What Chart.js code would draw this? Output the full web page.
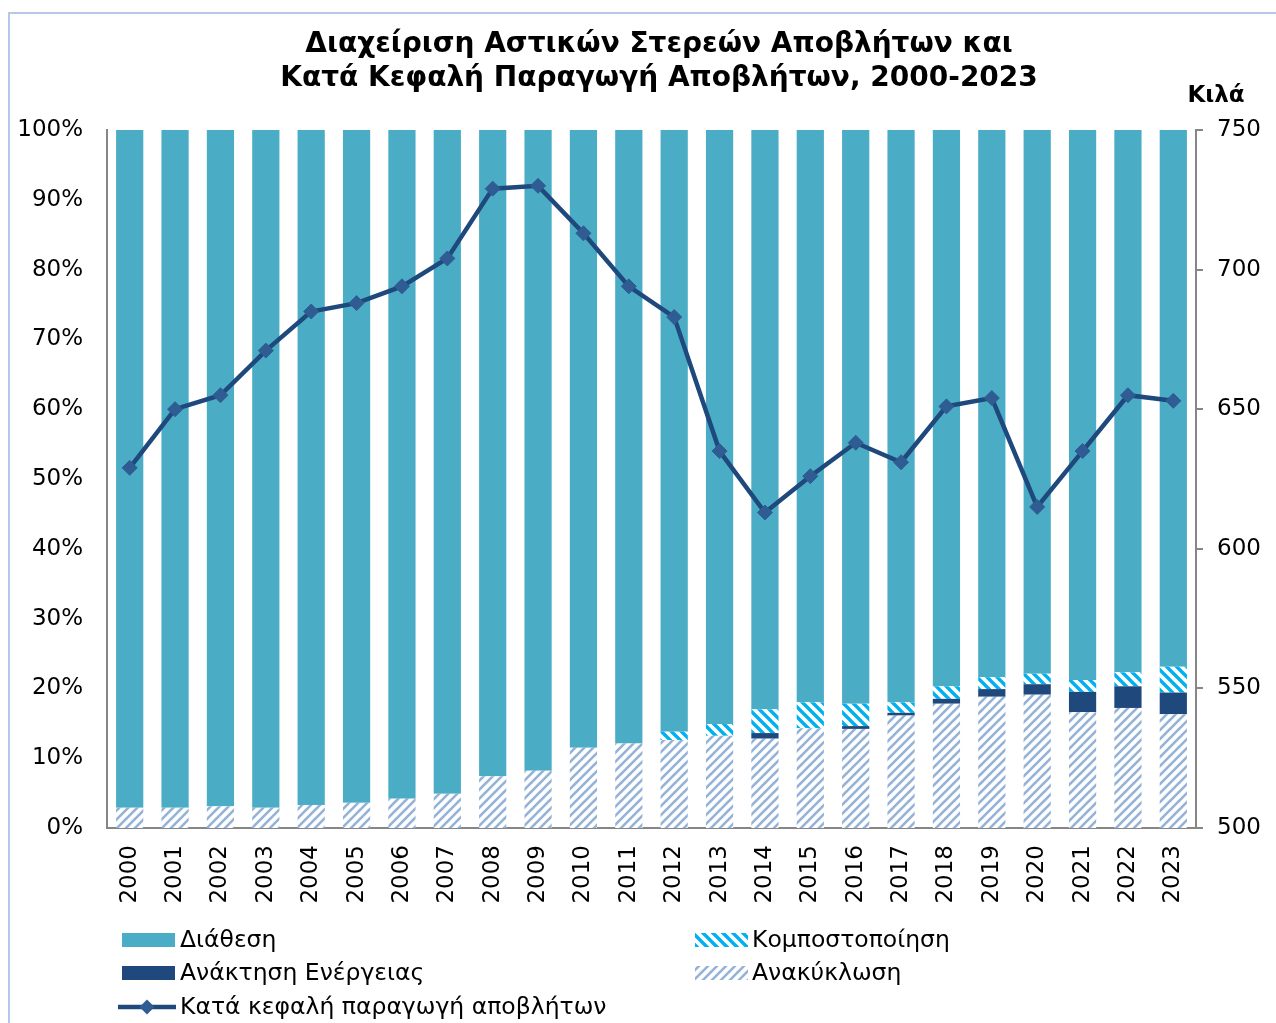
<!DOCTYPE html>
<html>
<head>
<meta charset="utf-8">
<script src="https://cdn.jsdelivr.net/npm/chart.js@4.4.1/dist/chart.umd.min.js"></script>
<style>
html,body{margin:0;padding:0;background:#fff;}
#wrap{position:relative;width:1276px;height:1023px;}
canvas{display:block;}
</style>
</head>
<body>
<div id="wrap"><canvas id="c" width="1276" height="1023"></canvas></div>
<script>
const years = ['2000','2001','2002','2003','2004','2005','2006','2007','2008','2009','2010','2011','2012','2013','2014','2015','2016','2017','2018','2019','2020','2021','2022','2023'];
const recycling = [2.9,2.9,3.1,2.9,3.3,3.6,4.2,4.9,7.4,8.2,11.5,12.1,12.6,13.2,12.8,14.3,14.2,16.1,17.8,18.8,19.1,16.6,17.2,16.3];
const energyRecovery = [0,0,0,0,0,0,0,0,0,0,0,0,0,0,0.8,0,0.4,0.4,0.7,1.1,1.5,2.9,3.1,3.1];
const composting = [0,0,0,0,0,0,0,0,0,0,0,0,1.2,1.7,3.4,3.7,3.2,1.5,1.8,1.7,1.5,1.7,2.0,3.7];
const disposal = [97.1,97.1,96.9,97.1,96.7,96.4,95.8,95.1,92.6,91.8,88.5,87.9,86.2,85.1,83.0,82.0,82.2,82.0,79.7,78.4,77.9,78.8,77.7,76.9];
const perCapita = [629,650,655,671,685,688,694,704,729,730,713,694,683,635,613,626,638,631,651,654,615,635,655,653];
const pctTicks = [0,10,20,30,40,50,60,70,80,90,100];
const kgTicks = [500,550,600,650,700,750];

const titleLines = ['Διαχείριση Αστικών Στερεών Αποβλήτων και','Κατά Κεφαλή Παραγωγή Αποβλήτων, 2000-2023'];
const unitLabel = 'Κιλά';
const labels = {
  disposal:'Διάθεση', energy:'Ανάκτηση Ενέργειας', compost:'Κομποστοποίηση',
  recycling:'Ανακύκλωση', line:'Κατά κεφαλή παραγωγή αποβλήτων'
};

const FONT = "'DejaVu Sans', Verdana, sans-serif";
const C_DISP = '#4bacc6', C_ENERGY = '#1f497d', C_COMP = '#00b0f0', C_REC = '#95b3d7';
const C_LINE = '#1f497d', C_MARK = '#2f5d93';

function stripe(color, dir, size, w){
  const cv = document.createElement('canvas');
  cv.width = size; cv.height = size;
  const g = cv.getContext('2d');
  g.fillStyle = '#fff'; g.fillRect(0,0,size,size);
  g.strokeStyle = color; g.lineWidth = w; g.lineCap = 'square';
  g.beginPath();
  for (let k=-1;k<=1;k++){
    if (dir === 'up'){ g.moveTo(k*size, size); g.lineTo(k*size+size, 0); }
    else { g.moveTo(k*size, 0); g.lineTo(k*size+size, size); }
  }
  g.stroke();
  return g.createPattern(cv,'repeat');
}
const patRec = stripe(C_REC,'up',9,2.6);
const patComp = stripe(C_COMP,'down',10,3.4);

const titlePlugin = {
  id:'titleLegend',
  beforeDraw(chart){
    const c = chart.ctx;
    c.save();
    c.strokeStyle = '#b4c9e8'; c.lineWidth = 2;
    c.beginPath(); c.moveTo(9, 1023); c.lineTo(9, 13); c.lineTo(1276, 13); c.stroke();
    c.restore();
  },
  afterDraw(chart){
    const c = chart.ctx;
    c.save();
    c.fillStyle = '#000';
    c.textAlign = 'center'; c.textBaseline = 'middle';
    c.font = 'bold 28px ' + FONT;
    c.fillText(titleLines[0], 659, 45);
    c.fillText(titleLines[1], 659, 79);
    c.font = 'bold 23px ' + FONT;
    c.fillText(unitLabel, 1216, 96);
    // legend
    c.font = '23.5px ' + FONT;
    c.textAlign = 'left';
    const items = [
      {x:122, y:940, t:labels.disposal, fill:C_DISP},
      {x:695, y:940, t:labels.compost, fill:patComp},
      {x:122, y:973, t:labels.energy, fill:C_ENERGY},
      {x:695, y:973, t:labels.recycling, fill:patRec},
    ];
    items.forEach(it=>{
      c.fillStyle = it.fill;
      c.fillRect(it.x, it.y-7, 53, 14);
      c.fillStyle = '#000';
      c.fillText(it.t, it.x + (it.x>600?57:58), it.y+1);
    });
    // line legend
    c.strokeStyle = C_LINE; c.lineWidth = 4.5;
    c.beginPath(); c.moveTo(118, 1007); c.lineTo(176, 1007); c.stroke();
    c.fillStyle = C_MARK;
    c.beginPath(); c.moveTo(147-7.5,1007); c.lineTo(147,1007-7.5); c.lineTo(147+7.5,1007); c.lineTo(147,1007+7.5); c.closePath(); c.fill();
    c.fillStyle = '#000';
    c.fillText(labels.line, 180, 1008);
    c.restore();
  }
};

new Chart(document.getElementById('c'), {
  data: {
    labels: years,
    datasets: [
      {type:'line', label:labels.line, data:perCapita, yAxisID:'y1', borderColor:C_LINE, borderWidth:4.5,
        pointStyle:'rectRot', pointRadius:7.5, pointBackgroundColor:C_MARK, pointBorderColor:C_MARK, pointBorderWidth:1,
        tension:0, order:0},
      {type:'bar', label:labels.recycling, data:recycling, backgroundColor:patRec, stack:'s', order:1},
      {type:'bar', label:labels.energy, data:energyRecovery, backgroundColor:C_ENERGY, stack:'s', order:1},
      {type:'bar', label:labels.compost, data:composting, backgroundColor:patComp, stack:'s', order:1},
      {type:'bar', label:labels.disposal, data:disposal, backgroundColor:C_DISP, stack:'s', order:1},
    ]
  },
  options: {
    responsive:false, animation:false, devicePixelRatio:1,
    layout:{padding:{left:8, right:0, top:130, bottom:105}},
    datasets:{bar:{barPercentage:0.6, categoryPercentage:1.0}},
    plugins:{legend:{display:false}, title:{display:false}, tooltip:{enabled:false}},
    scales:{
      x:{stacked:true, grid:{display:false, drawTicks:false}, border:{display:true, color:'#868686', width:2},
        ticks:{maxRotation:90, minRotation:90, padding:17, color:'#000', font:{family:FONT, size:23}},
        afterFit(s){ s.height = 90; }},
      y:{stacked:true, position:'left', min:0, max:100,
        afterBuildTicks(s){ s.ticks = pctTicks.map(v=>({value:v})); },
        grid:{display:false, drawTicks:false}, border:{display:true, color:'#868686', width:2},
        ticks:{padding:24, color:'#000', font:{family:FONT, size:23}, callback:v=>v+'%'},
        afterFit(s){ s.width = 99; }},
      y1:{position:'right', min:500, max:750,
        afterBuildTicks(s){ s.ticks = kgTicks.map(v=>({value:v})); },
        grid:{drawOnChartArea:false, drawTicks:true, tickLength:7, color:'#868686', lineWidth:2},
        border:{display:true, color:'#868686', width:2},
        ticks:{padding:14, color:'#000', font:{family:FONT, size:23}},
        afterFit(s){ s.width = 80; }}
    }
  },
  plugins:[titlePlugin]
});
</script>
</body>
</html>
